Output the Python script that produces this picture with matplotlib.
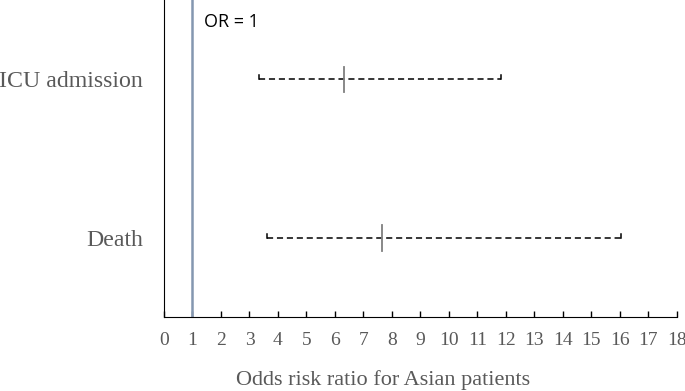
import matplotlib
matplotlib.use("Agg")
import matplotlib.pyplot as plt

# data
outcomes = ["ICU admission", "Death"]
ypos = [3, 1]
odds = [6.32, 7.65]
lower = [3.33, 3.61]
upper = [11.83, 16.04]
reference_or = 1

fig = plt.figure(figsize=(6.85, 3.91), dpi=100)
ax = fig.add_axes([0.2394, 0.189, 0.7486, 0.811])

for y, o, lo, hi in zip(ypos, odds, lower, upper):
    ax.plot([lo, hi], [y, y], color="black", lw=1.1, ls=(0, (4, 2.5)))
    # small end caps
    ax.plot([lo, lo], [y, y + 0.05], color="black", lw=1.1)
    ax.plot([hi, hi], [y, y + 0.05], color="black", lw=1.1)
    ax.plot([o, o], [y - 0.16, y + 0.16], color="#7f7f7f", lw=1.3)

ax.axvline(reference_or, color="#8497b0", lw=1.8)
ax.text(reference_or + 0.42, 3.72, "OR = 1", fontsize=13, family="Open Sans", va="center")

ax.set_xlim(0, 18)
ax.set_ylim(0, 4)
ax.set_xticks(range(0, 19))
ax.set_yticks(ypos)
ax.set_yticklabels(outcomes, family="Liberation Serif", fontsize=17.2, color="#595959")
ax.tick_params(axis="y", length=0, pad=15)
ax.tick_params(axis="x", direction="in", length=4.5, width=1, pad=11, labelsize=14,
               labelcolor="#595959")
for lab in ax.get_xticklabels():
    lab.set_family("Liberation Serif")
ax.set_xlabel("Odds risk ratio for Asian patients", family="Liberation Serif",
              fontsize=16, color="#595959", labelpad=13)
ax.xaxis.set_label_coords(0.427, -0.2)
ax.xaxis.label.set_va("center")
ax.spines["top"].set_visible(False)
ax.spines["right"].set_visible(False)
ax.spines["left"].set_color("black")
ax.spines["bottom"].set_color("black")

fig.savefig("out.png", dpi=100)
